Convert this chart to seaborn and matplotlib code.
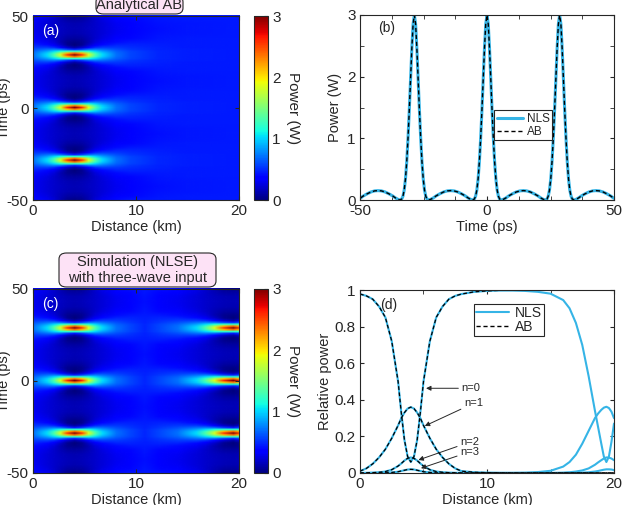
import numpy as np
import matplotlib
matplotlib.use("Agg")
import matplotlib.pyplot as plt
from matplotlib.image import NonUniformImage
from matplotlib.lines import Line2D
from matplotlib.patches import FancyBboxPatch
import seaborn as sns

# ---------------- values ----------------
# heat maps: power (W) vs time offset from the nearest pulse peak,
# one row per (scaled) distance from the compression point
offsets_ps = [0, 1, 2, 3, 4, 5, 5.7, 7, 9, 11.5, 14.3]
pulse_centres = [-57.2, -28.6, 0, 28.6, 57.2]
power_rows = {
    0.0: [3.0, 2.35, 1.20, 0.45, 0.12, 0.013, 0.0, 0.024, 0.083, 0.133, 0.152],
    0.5: [2.58, 2.11, 1.21, 0.55, 0.22, 0.086, 0.056, 0.058, 0.10, 0.142, 0.159],
    1.0: [1.86, 1.63, 1.14, 0.69, 0.39, 0.24, 0.18, 0.14, 0.145, 0.167, 0.177],
    1.5: [1.34, 1.24, 1.0, 0.73, 0.515, 0.37, 0.30, 0.236, 0.203, 0.202, 0.205],
    2.0: [1.02, 0.975, 0.854, 0.702, 0.561, 0.448, 0.388, 0.314, 0.26, 0.241, 0.238],
    3.0: [0.708, 0.695, 0.659, 0.607, 0.549, 0.493, 0.458, 0.403, 0.348, 0.314, 0.303],
    4.0: [0.578, 0.576, 0.565, 0.539, 0.515, 0.487, 0.472, 0.437, 0.397, 0.368, 0.357],
    6.0: [0.485, 0.484, 0.482, 0.478, 0.472, 0.466, 0.461, 0.451, 0.436, 0.422, 0.415],
    8.0: [0.461, 0.461, 0.460, 0.459, 0.457, 0.455, 0.454, 0.450, 0.446, 0.441, 0.439],
    12.0: [0.451, 0.451, 0.451, 0.450, 0.450, 0.450, 0.450, 0.450, 0.449, 0.449, 0.449],
}

# (a) analytical AB: distance samples (km) and the profile row used there
dist_a = [0, 1.3, 2.0, 2.65, 3.3, 4, 4.7, 5.35, 6.0, 6.7, 8.05, 9.4, 12.1,
          14.8, 20]
gap_a = [3, 2, 1.5, 1, 0.5, 0, 0.5, 1, 1.5, 2, 3, 4, 6, 8, 12]
# (c) NLSE with three-wave input (second, broader compression near 19.4 km)
dist_c = [0, 1.3, 2.0, 2.65, 3.3, 4, 4.7, 5.35, 6.0, 6.7, 8.05, 9.4, 10.8,
          12.2, 14.0, 15.8, 16.7, 17.6, 18.5, 19.4, 20]
gap_c = [3, 2, 1.5, 1, 0.5, 0, 0.5, 1, 1.5, 2, 3, 4, 6,
         4, 3, 2, 1.5, 1, 0.5, 0, 0.5]

# (b) temporal profile at maximum compression (offset from a peak)
peak_offsets = [0, 0.5, 1, 1.5, 2, 2.5, 3, 3.5, 4, 4.5, 5, 5.7, 6.5, 7.5,
                8.5, 10, 11.5, 13, 14.3]
peak_power = [3.0, 2.85, 2.45, 1.95, 1.45, 1.0, 0.62, 0.34, 0.16, 0.06,
              0.015, 0.0, 0.012, 0.035, 0.065, 0.1, 0.13, 0.148, 0.152]

# (d) relative power of pump (n=0) and sidebands n=1..3
z_d = [0, 0.5, 1, 1.5, 2, 2.5, 3, 3.25, 3.5, 3.75, 4, 4.25, 4.5, 4.75, 5,
       5.5, 6, 6.5, 7, 7.5, 8, 9, 10, 11, 12, 13, 14, 15, 16, 16.5, 17,
       17.5, 18, 18.5, 18.75, 19, 19.2, 19.4, 19.6, 19.8, 20]
ab_n0 = [0.978, 0.968, 0.95, 0.91, 0.85, 0.72, 0.5, 0.33, 0.18, 0.09, 0.06,
         0.09, 0.18, 0.33, 0.5, 0.72, 0.85, 0.91, 0.95, 0.968, 0.978,
         0.99, 0.995, 0.998, 0.999, 1, 1, 1, 1, 1, 1, 1, 1, 1, 1, 1, 1, 1,
         1, 1, 1]
ab_n1 = [0.01, 0.025, 0.05, 0.085, 0.13, 0.19, 0.26, 0.3, 0.33, 0.352, 0.36,
         0.352, 0.33, 0.3, 0.26, 0.19, 0.13, 0.085, 0.05, 0.025, 0.01,
         0.004, 0.002, 0.001, 0, 0, 0, 0, 0, 0, 0, 0, 0, 0, 0, 0, 0, 0, 0,
         0, 0]
ab_n2 = [0, 0.001, 0.002, 0.004, 0.008, 0.018, 0.038, 0.052, 0.068, 0.08,
         0.085, 0.08, 0.068, 0.052, 0.038, 0.018, 0.008, 0.004, 0.002,
         0.001, 0, 0, 0, 0, 0, 0, 0, 0, 0, 0, 0, 0, 0, 0, 0, 0, 0, 0, 0,
         0, 0]
ab_n3 = [0, 0, 0, 0, 0.001, 0.003, 0.007, 0.011, 0.015, 0.019, 0.02, 0.019,
         0.015, 0.011, 0.007, 0.003, 0.001, 0, 0, 0, 0, 0, 0, 0, 0, 0, 0,
         0, 0, 0, 0, 0, 0, 0, 0, 0, 0, 0, 0, 0, 0]
nls_n0 = [0.978, 0.968, 0.95, 0.91, 0.85, 0.72, 0.5, 0.33, 0.18, 0.09, 0.06,
          0.09, 0.18, 0.33, 0.5, 0.72, 0.85, 0.91, 0.95, 0.968, 0.978,
          0.99, 0.995, 0.997, 0.997, 0.995, 0.99, 0.98, 0.945, 0.9, 0.82,
          0.7, 0.53, 0.34, 0.25, 0.16, 0.09, 0.06, 0.09, 0.17, 0.27]
nls_n1 = [0.01, 0.025, 0.05, 0.085, 0.13, 0.19, 0.26, 0.3, 0.33, 0.352, 0.36,
          0.352, 0.33, 0.3, 0.26, 0.19, 0.13, 0.085, 0.05, 0.025, 0.01,
          0.004, 0.002, 0.001, 0.001, 0.002, 0.005, 0.012, 0.035, 0.06, 0.1,
          0.16, 0.23, 0.3, 0.325, 0.345, 0.357, 0.362, 0.355, 0.335, 0.3]
nls_n2 = [0, 0.001, 0.002, 0.004, 0.008, 0.018, 0.038, 0.052, 0.068, 0.08,
          0.085, 0.08, 0.068, 0.052, 0.038, 0.018, 0.008, 0.004, 0.002,
          0.001, 0, 0, 0, 0, 0, 0, 0, 0, 0.002, 0.004, 0.008, 0.014, 0.025,
          0.045, 0.058, 0.07, 0.079, 0.085, 0.084, 0.079, 0.07]
nls_n3 = [0, 0, 0, 0, 0.001, 0.003, 0.007, 0.011, 0.015, 0.019, 0.02, 0.019,
          0.015, 0.011, 0.007, 0.003, 0.001, 0, 0, 0, 0, 0, 0, 0, 0, 0, 0,
          0, 0, 0.001, 0.001, 0.002, 0.004, 0.008, 0.011, 0.015, 0.018,
          0.02, 0.02, 0.019, 0.016]

# ---------------- style ----------------
sns.set_style("ticks")
plt.rcParams['font.family'] = ['Liberation Sans', 'DejaVu Sans']
plt.rcParams.update({
    'font.size': 10,
    'axes.unicode_minus': False,
    'xtick.direction': 'in', 'ytick.direction': 'in',
    'xtick.top': True, 'ytick.right': True,
    'xtick.major.size': 3, 'ytick.major.size': 3,
    'xtick.minor.size': 3, 'ytick.minor.size': 3,
    'xtick.major.pad': 3, 'ytick.major.pad': 3,
    'xtick.color': '#262626', 'ytick.color': '#262626',
    'axes.edgecolor': '#262626', 'axes.linewidth': 0.8,
    'axes.labelsize': 10.5,
})
NLS_BLUE = '#35B4E6'


def tile_period(offsets, values):
    """mirror a half-period profile and repeat it around each pulse centre"""
    offs = np.asarray(offsets, dtype=float)
    vals = np.asarray(values, dtype=float)
    per_t = np.concatenate([-offs[:0:-1], offs[:-1]])
    per_v = np.concatenate([vals[:0:-1], vals[:-1]], axis=0)
    t = np.concatenate([c + per_t for c in pulse_centres])
    v = np.concatenate([per_v] * len(pulse_centres), axis=0)
    return t, v


def heat_panel(ax, cax, dist, gaps, label):
    half = np.array([power_rows[float(g)] for g in gaps]).T
    t, field = tile_period(offsets_ps, half)
    im = NonUniformImage(ax, interpolation='bilinear', cmap='jet',
                         extent=(0, 20, t[0], t[-1]))
    im.set_data(np.asarray(dist, float), t, field)
    im.set_clim(0, 3)
    ax.add_image(im)
    ax.set_xlim(0, 20)
    ax.set_ylim(-50, 50)
    ax.set_xticks([0, 10, 20])
    ax.set_yticks([-50, 0, 50])
    ax.set_xlabel('Distance (km)', labelpad=1)
    ax.set_ylabel('Time (ps)', labelpad=-3)
    ax.text(0.045, 0.92, label, transform=ax.transAxes, color='white',
            fontsize=10, va='center')
    cb = plt.colorbar(im, cax=cax, ticks=[0, 1, 2, 3])
    cb.outline.set_linewidth(0.8)
    cb.ax.tick_params(direction='in', length=3, labelsize=11)
    cb.set_label('Power (W)', rotation=270, labelpad=14, fontsize=11)


fig = plt.figure(figsize=(6.24, 5.05), dpi=100)
W, H = 624.0, 505.0


def px_axes(x0, x1, y0, y1):
    return fig.add_axes([x0 / W, 1 - y1 / H, (x1 - x0) / W, (y1 - y0) / H])


def px_label_box(x0, x1, y0, y1, text):
    patch = FancyBboxPatch((x0 / W, 1 - y1 / H), (x1 - x0) / W, (y1 - y0) / H,
                           boxstyle='round,pad=0,rounding_size=0.012',
                           transform=fig.transFigure, fc='#FDE2F6',
                           ec='#262626', lw=0.8, clip_on=False)
    fig.add_artist(patch)
    fig.text((x0 + x1) / 2 / W, 1 - (y0 + y1) / 2 / H, text, ha='center',
             va='center', fontsize=10.5, linespacing=1.1)


ax_a = px_axes(33, 239, 16, 200)
cax_a = px_axes(254, 268, 16, 200)
ax_b = px_axes(360, 614, 15, 200)
ax_c = px_axes(33, 239, 289, 473)
cax_c = px_axes(254, 268, 289, 473)
ax_d = px_axes(360, 614, 290, 473)

heat_panel(ax_a, cax_a, dist_a, gap_a, '(a)')
heat_panel(ax_c, cax_c, dist_c, gap_c, '(c)')

px_label_box(96, 183, -4, 14, 'Analytical AB')
px_label_box(59, 216, 253, 287, 'Simulation (NLSE)\nwith three-wave input')

# (b) profile at maximum compression
t_b, p_b = tile_period(peak_offsets, peak_power)
sns.lineplot(x=t_b, y=p_b, ax=ax_b, color=NLS_BLUE, lw=2.2, sort=False)
sns.lineplot(x=t_b, y=p_b, ax=ax_b, color='black', lw=1.0, sort=False,
             linestyle=(0, (3, 2)))
ax_b.set_xlim(-50, 50)
ax_b.set_ylim(0, 3)
ax_b.set_xticks([-50, 0, 50])
ax_b.set_xticks(np.arange(-50, 51, 12.5), minor=True)
ax_b.set_yticks([0, 1, 2, 3])
ax_b.set_yticks([0.5, 1.5, 2.5], minor=True)
ax_b.tick_params(which='both', top=True, right=True)
ax_b.set_xlabel('Time (ps)', labelpad=1)
ax_b.set_ylabel('Power (W)', labelpad=4)
ax_b.text(0.07, 0.93, '(b)', transform=ax_b.transAxes, fontsize=10,
          va='center')
handles = [Line2D([], [], color=NLS_BLUE, lw=2.2),
           Line2D([], [], color='black', lw=1.0, linestyle=(0, (3, 2)))]
leg = ax_b.legend(handles, ['NLS', 'AB'], loc='center',
                  bbox_to_anchor=(0.642, 0.403), fontsize=8.5, frameon=True,
                  fancybox=False, edgecolor='#262626', framealpha=1,
                  borderpad=0.2, handlelength=2.2, handletextpad=0.35,
                  labelspacing=0.1, borderaxespad=0)
leg.get_frame().set_linewidth(0.8)

# (d) relative power along the fibre
for nls in [nls_n0, nls_n1, nls_n2, nls_n3]:
    sns.lineplot(x=z_d, y=nls, ax=ax_d, color=NLS_BLUE, lw=1.5, sort=False)
for ab in [ab_n0, ab_n1, ab_n2, ab_n3]:
    sns.lineplot(x=z_d, y=ab, ax=ax_d, color='black', lw=0.9, sort=False,
                 linestyle=(0, (3, 2)))
ax_d.set_xlim(0, 20)
ax_d.set_ylim(0, 1)
ax_d.set_xticks([0, 10, 20])
ax_d.set_xticks([5, 15], minor=True)
ax_d.set_yticks([0, 0.2, 0.4, 0.6, 0.8, 1])
ax_d.set_yticklabels(['0', '0.2', '0.4', '0.6', '0.8', '1'])
ax_d.tick_params(which='both', top=True, right=True)
ax_d.set_xlabel('Distance (km)', labelpad=1)
ax_d.set_ylabel('Relative power', labelpad=2)
ax_d.text(0.08, 0.918, '(d)', transform=ax_d.transAxes, fontsize=10,
          va='center')
handles = [Line2D([], [], color=NLS_BLUE, lw=1.5),
           Line2D([], [], color='black', lw=1.0, linestyle=(0, (3, 2)))]
leg = ax_d.legend(handles, ['NLS', 'AB'], loc='center',
                  bbox_to_anchor=(0.587, 0.836), fontsize=10, frameon=True,
                  fancybox=False, edgecolor='#262626', framealpha=1,
                  borderpad=0.15, handlelength=2.4, handletextpad=0.4,
                  labelspacing=0.05, borderaxespad=0)
leg.get_frame().set_linewidth(0.8)

arrow = dict(arrowstyle='-|>', color='#262626', lw=0.7, shrinkA=0, shrinkB=0,
             mutation_scale=7)
for txt, tip, pos in [('n=0', (5.2, 0.463), (8.0, 0.463)),
                      ('n=1', (5.1, 0.257), (8.2, 0.381)),
                      ('n=2', (4.6, 0.071), (7.9, 0.169)),
                      ('n=3', (4.8, 0.026), (7.9, 0.116))]:
    ax_d.annotate(txt, xy=tip, xytext=pos, fontsize=8, color='#262626',
                  ha='left', va='center', arrowprops=arrow)

for ax in [ax_a, ax_b, ax_c, ax_d]:
    ax.tick_params(labelsize=11)

fig.savefig('out.png', dpi=100)
